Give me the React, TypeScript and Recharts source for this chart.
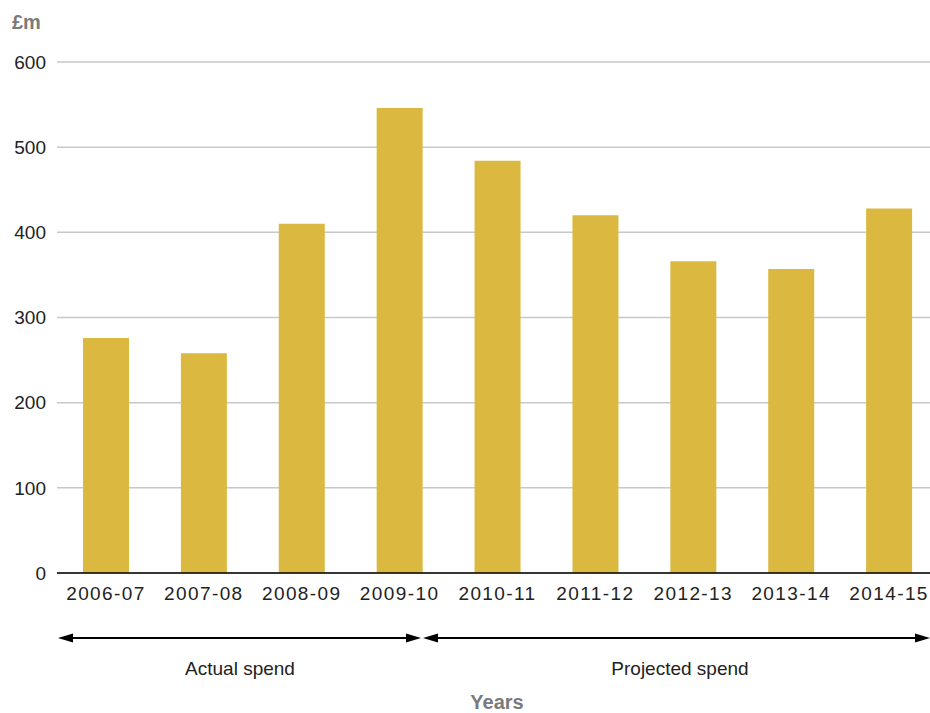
import React from 'react';
import { BarChart, Bar, XAxis, YAxis, CartesianGrid } from 'recharts';

const years = ['2006-07', '2007-08', '2008-09', '2009-10', '2010-11', '2011-12', '2012-13', '2013-14', '2014-15'];
const spend = [276, 258, 410, 546, 484, 420, 366, 357, 428];
const yTicks = [0, 100, 200, 300, 400, 500, 600];

const data = years.map((year, i) => ({ year, spend: spend[i] }));

const font = '"Liberation Sans", Arial, Helvetica, sans-serif';
const W = 930;
const H = 713;

const App: React.FC = () => {
  return (
    // fixed to the viewport so nothing adds scroll height; the plot runs a little past the right edge
    <div
      style={{
        position: 'fixed',
        left: 0,
        top: 0,
        width: W,
        height: H,
        overflow: 'hidden',
        fontFamily: font,
        background: '#fff',
      }}
    >
      <BarChart
        width={938}
        height={H}
        data={data}
        margin={{ top: 62, right: 0, bottom: 110, left: 7 }}
      >
        <CartesianGrid vertical={false} stroke="#c8c8c8" strokeWidth={1.5} />
        <XAxis
          dataKey="year"
          height={30}
          tickLine={false}
          tickSize={0}
          tickMargin={14}
          axisLine={{ stroke: '#000', strokeWidth: 1.5 }}
          tick={{ fill: '#222', fontSize: 19, fontFamily: font, letterSpacing: 1.4 }}
        />
        <YAxis
          width={50}
          domain={[0, 600]}
          ticks={yTicks}
          axisLine={false}
          tickLine={false}
          tickSize={0}
          tickMargin={11}
          tick={{ fill: '#222', fontSize: 19, fontFamily: font }}
        />
        <Bar dataKey="spend" fill="#dbb940" barSize={46} isAnimationActive={false} />
      </BarChart>

      <svg width={W} height={H} style={{ position: 'absolute', left: 0, top: 0, pointerEvents: 'none' }}>
        <text x={12} y={29} fill="#7a7a7a" fontSize={20} fontWeight="bold" fontFamily={font}>
          £m
        </text>
        {/* actual spend arrow */}
        <line x1={68} y1={638} x2={410} y2={638} stroke="#000" strokeWidth={2} />
        <polygon points="58,638 73,633.5 73,642.5" fill="#000" />
        <polygon points="421,638 406,633.5 406,642.5" fill="#000" />
        {/* projected spend arrow */}
        <line x1={433} y1={638} x2={920} y2={638} stroke="#000" strokeWidth={2} />
        <polygon points="423,638 438,633.5 438,642.5" fill="#000" />
        <polygon points="930,638 915,633.5 915,642.5" fill="#000" />
        <text x={240} y={675} textAnchor="middle" fill="#222" fontSize={19} fontFamily={font}>
          Actual spend
        </text>
        <text x={680} y={675} textAnchor="middle" fill="#222" fontSize={19} fontFamily={font}>
          Projected spend
        </text>
        <text x={497} y={709} textAnchor="middle" fill="#7a7a7a" fontSize={20} fontWeight="bold" fontFamily={font}>
          Years
        </text>
      </svg>
    </div>
  );
};

export default App;
